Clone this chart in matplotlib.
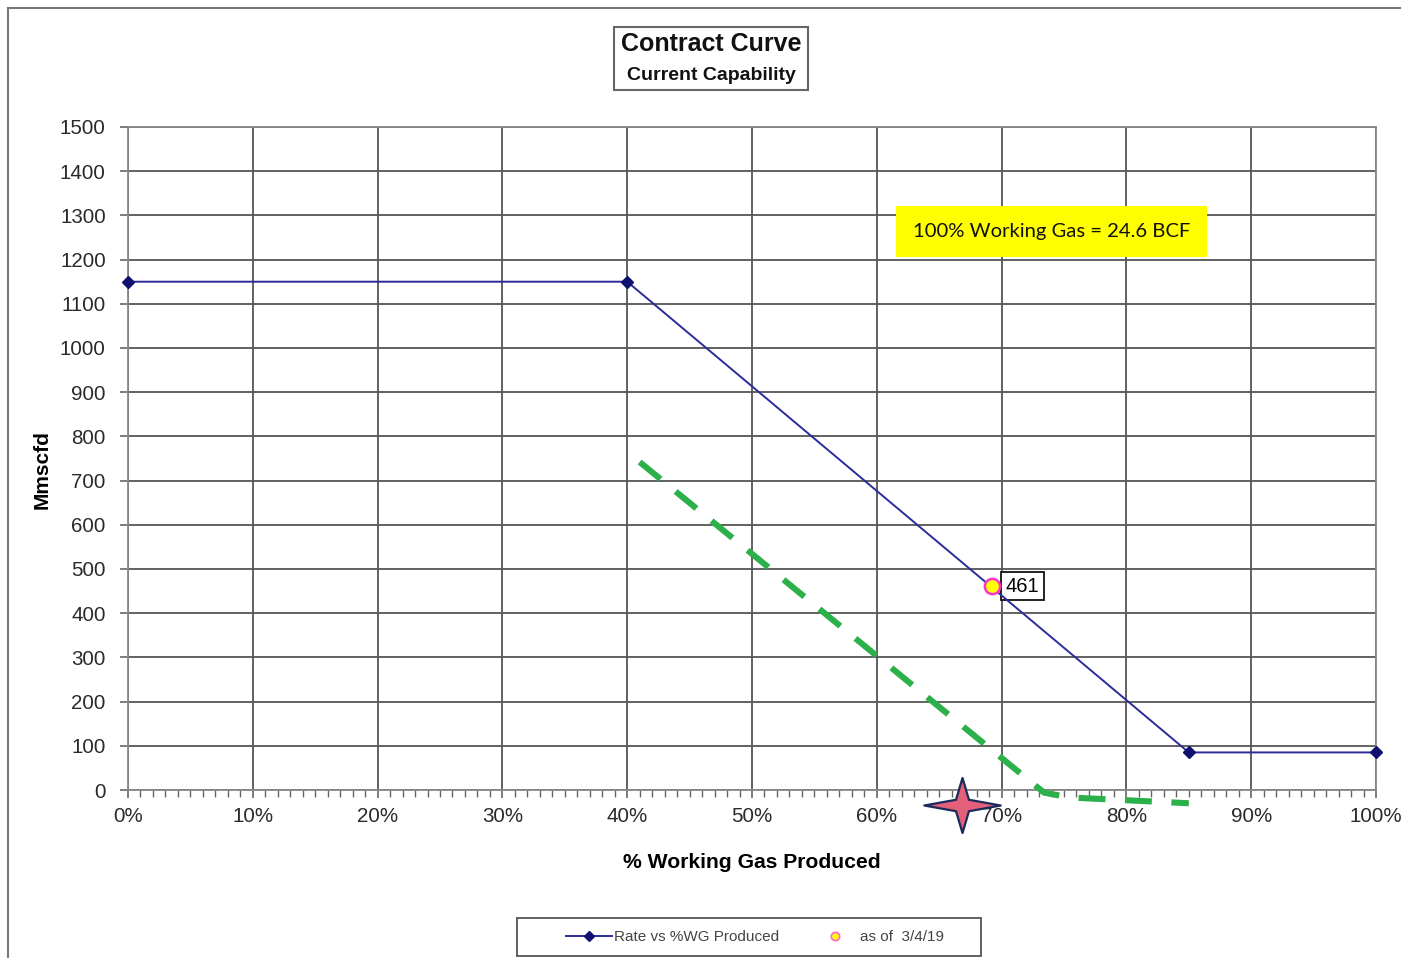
import matplotlib.pyplot as plt
from matplotlib.lines import Line2D
from matplotlib.patches import Rectangle
from matplotlib.path import Path

plt.rcParams['font.family'] = ['Liberation Sans', 'DejaVu Sans']

# contract curve (rate vs % working gas produced)
pct_wg = [0, 40, 85, 100]
rate = [1150, 1150, 85, 85]

# current point
cur_pct = [69.2]
cur_rate = [461]

# hand-drawn green dashed curve
green_pct = [41, 73.4, 75.5, 85]
green_rate = [742, -6, -17, -30]

# star marker position
star_pct = [66.8]
star_rate = [-34]

x_ticks = list(range(0, 101, 10))
x_labels = [f'{v}%' for v in x_ticks]
y_ticks = list(range(0, 1501, 100))

fig = plt.figure(figsize=(14.01, 9.58), dpi=100)
ax = fig.add_axes([128 / 1401, 1 - 790 / 958, 1248 / 1401, 663 / 958])

ax.set_xlim(0, 100)
ax.set_ylim(0, 1500)
ax.set_xticks(x_ticks)
ax.set_xticklabels(x_labels)
ax.set_xticks(range(0, 101, 1), minor=True)
ax.set_yticks(y_ticks)
ax.tick_params(axis='both', labelsize=14.8, labelcolor='#2a2a2a', color='#666666',
               length=6, width=1.2, direction='out')
ax.tick_params(axis='x', which='major', pad=6)
ax.tick_params(axis='x', which='minor', length=5, width=1.0, color='#666666')
ax.tick_params(axis='y', pad=10)
ax.grid(True, which='major', color='#555555', lw=1.3)
ax.set_axisbelow(True)
for s in ax.spines.values():
    s.set_color('#888888')
    s.set_linewidth(1.3)

line, = ax.plot(pct_wg, rate, color='#2b2b9c', lw=1.4, marker='D', ms=6,
                mfc='#10106e', mec='#10106e', clip_on=False, zorder=4)
pt, = ax.plot(cur_pct, cur_rate, 'o', ms=11, mfc='#ffff00', mec='#ff33cc', mew=1.8, zorder=5)
ax.annotate('461', xy=(cur_pct[0], cur_rate[0]), xytext=(10, 0), textcoords='offset points',
            ha='left', va='center', fontsize=14.5,
            bbox=dict(boxstyle='square,pad=0.22', fc='white', ec='#111111', lw=1.3))

ax.plot(green_pct, green_rate, color='#2cb04a', lw=4.4, linestyle=(0, (4.4, 3.2)),
        solid_capstyle='butt', dash_capstyle='butt', clip_on=False, zorder=6)

star = Path([(0, 0.72), (0.17, 0.15), (1.0, 0), (0.17, -0.15), (0, -0.72),
             (-0.17, -0.15), (-1.0, 0), (-0.17, 0.15), (0, 0.72)],
            [Path.MOVETO] + [Path.LINETO] * 7 + [Path.CLOSEPOLY])
ax.plot(star_pct, star_rate, marker=star, ms=55, mfc='#e4607a', mec='#1b2a5c', mew=1.6,
        linestyle='none', clip_on=False, zorder=7)

ax.text(74.0, 1264, '100% Working Gas = 24.6 BCF', fontsize=14.6, va='center', ha='center',
        family=['Lato', 'DejaVu Sans'], color='#111111',
        bbox=dict(boxstyle='square,pad=0.85', fc='#ffff00', ec='none'))

ax.set_xlabel('% Working Gas Produced', fontsize=15.2, fontweight='bold', labelpad=20)
ax.set_ylabel('Mmscfd', fontsize=15, fontweight='bold')
ax.yaxis.set_label_coords(-0.061, 0.483)

# title box
fig.patches.append(Rectangle((614 / 1401, 1 - 90 / 958), 194 / 1401, 63 / 958,
                             transform=fig.transFigure, fc='white', ec='#666666', lw=1.5))
fig.text(711 / 1401, 1 - 44 / 958, 'Contract Curve', fontsize=18, fontweight='bold',
         ha='center', va='center', color='#111111')
fig.text(711 / 1401, 1 - 75 / 958, 'Current Capability', fontsize=14, fontweight='bold',
         ha='center', va='center', color='#111111')

# outer chart border
fig.patches.append(Rectangle((8 / 1401, -0.1), 1.2, 1.1 - 8 / 958, transform=fig.transFigure,
                             fc='none', ec='#777777', lw=1.5))

# legend frame
fig.patches.append(Rectangle((517 / 1401, 1 - 956 / 958), 464 / 1401, 38 / 958,
                             transform=fig.transFigure, fc='white', ec='#555555', lw=1.3))
h1 = Line2D([], [], color='#2b2b9c', lw=1.4, marker='D', ms=5, mfc='#10106e', mec='#10106e')
h2 = Line2D([], [], linestyle='none', marker='o', ms=6, mfc='#ffff00', mec='#ff66cc', mew=1.2)
leg = fig.legend([h1, h2], ['Rate vs %WG Produced', 'as of  3/4/19'], ncol=2,
                 loc='center', bbox_to_anchor=(755 / 1401, 1 - 937 / 958),
                 fontsize=11, frameon=False, handlelength=3.0, handletextpad=0.1,
                 columnspacing=2.2, labelcolor='#444444')

fig.savefig('out.png', dpi=100)
